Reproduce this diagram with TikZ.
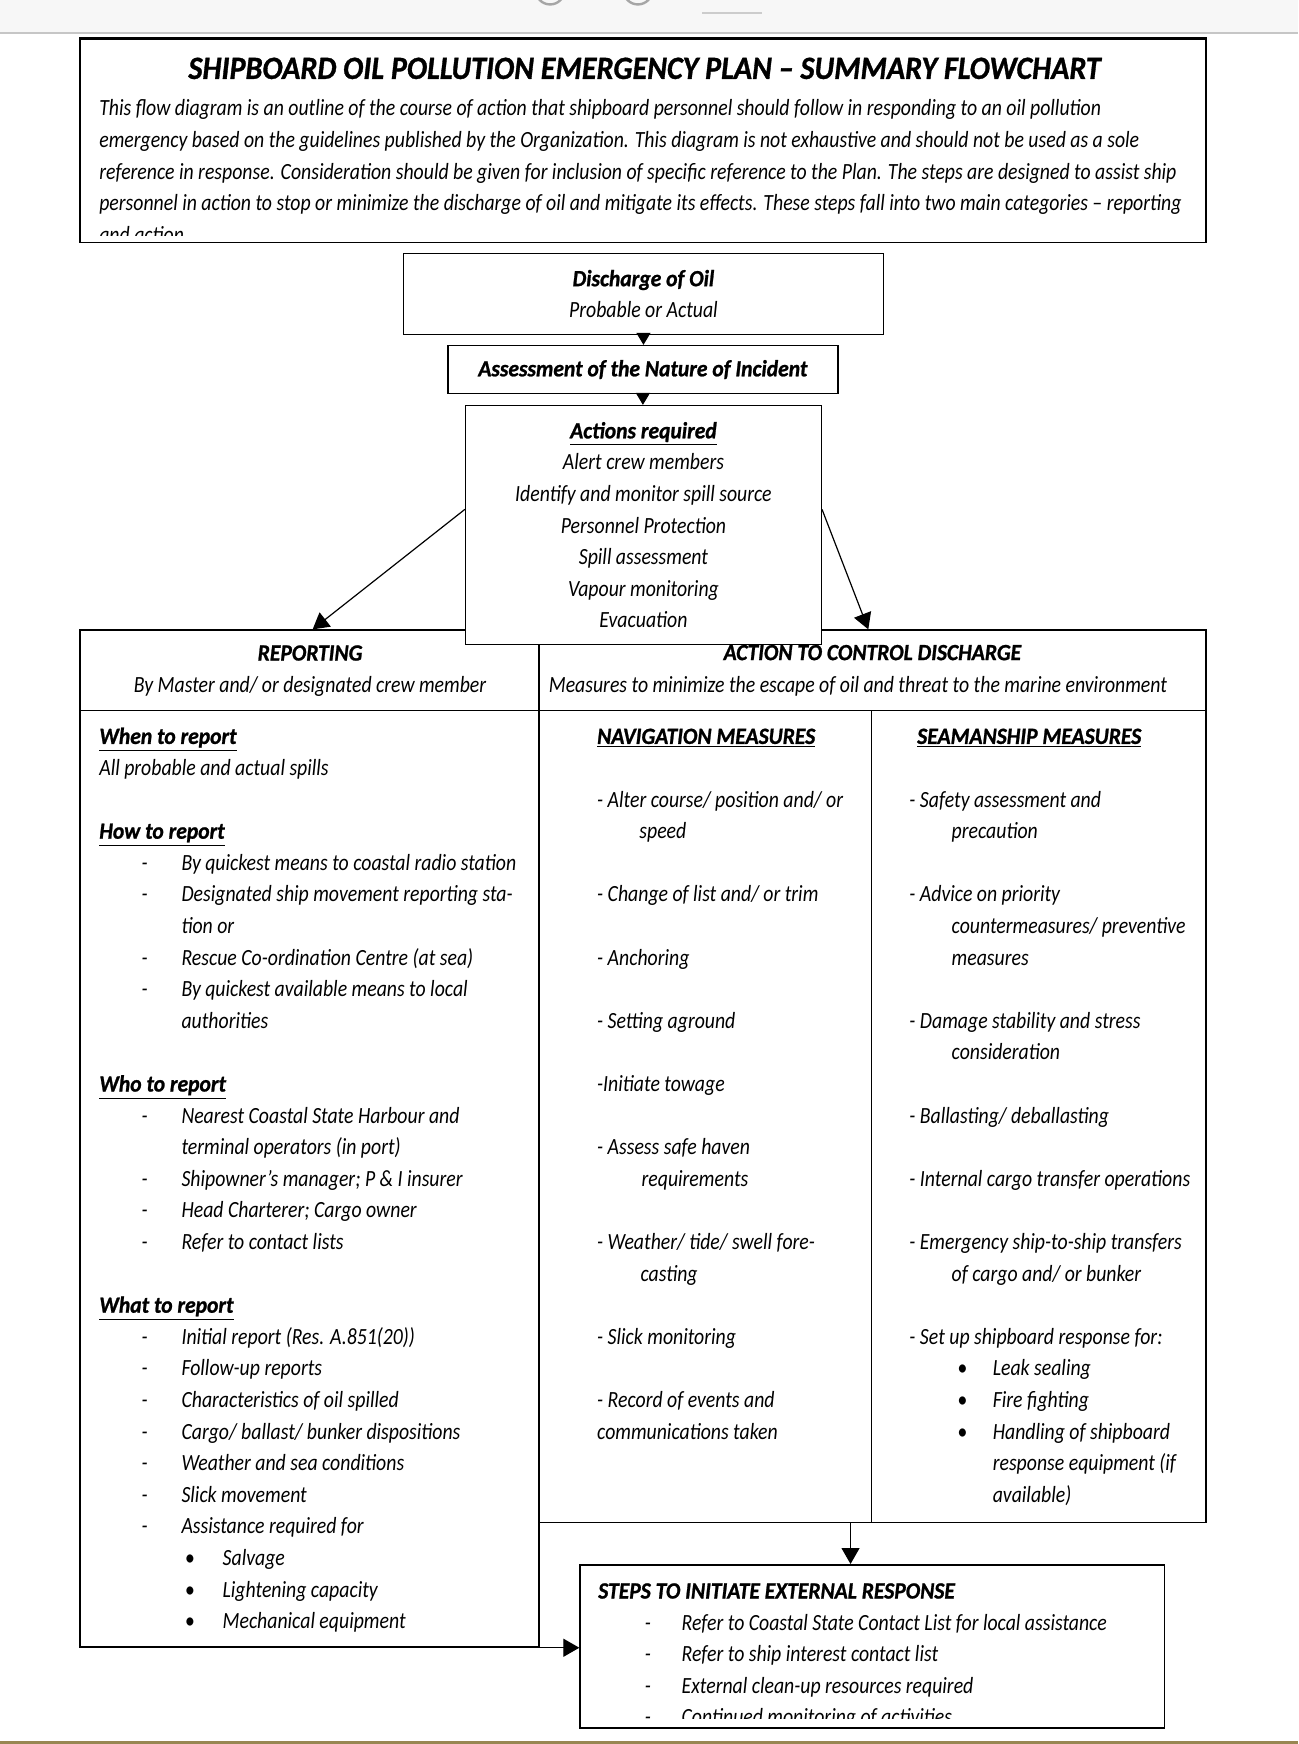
\documentclass[tikz,border=0pt]{standalone}
\usepackage{fontspec}
\setmainfont{Carlito}[FakeStretch=0.852]
\newfontfamily\hdfam{Carlito}[FakeStretch=0.93, BoldItalicFeatures={FakeBold=1}]
\usetikzlibrary{arrows.meta,calc}
\newlength\uu
\setlength\uu{0.55565pt}
\newcommand\bodyfont{\fontsize{11.6pt}{15.8pt}\selectfont\itshape}
\newcommand\hb[1]{{\hdfam\bfseries\itshape #1}}
\newcommand\dsh[1]{\hspace*{38\uu}\makebox[36\uu][l]{-}#1}
\newcommand\cont[1]{\hspace*{74\uu}#1}
\newcommand\bul[1]{\hspace*{77\uu}\makebox[34\uu][l]{\textbullet}#1}
\newcommand\sbul[1]{\hspace*{43\uu}\makebox[32\uu][l]{\textbullet}#1}
\newcommand\hd[1]{\underline{\hb{#1}}}
\newcommand\fl{\rule{0pt}{18\uu}}
\begin{document}
\begin{tikzpicture}[x=0.55565pt,y=-0.55565pt,
  box/.style={draw, line width=0.75pt, inner sep=0pt, fill=white},
  txt/.style={inner sep=0pt, font=\bodyfont, align=left},
  arr/.style={-{Triangle[width=9pt,length=8pt]}, line width=0.6pt},
  sarr/.style={-{Triangle[width=7pt,length=6pt]}, line width=0.6pt},
  rule/.style={line width=0.75pt}]
\useasboundingbox (0,0) rectangle (1168,1569.3);
% viewer bars
\fill[gray!6] (0,0) rectangle (1168,29.4);
\draw[gray!45, line width=1pt] (0,29.6) -- (1168,29.6);
\begin{scope}
\clip (0,0) rectangle (1168,29);
\draw[gray!70, line width=1.2pt] (495,-9) circle (13);
\draw[gray!70, line width=1.2pt] (574,-9) circle (13);
\end{scope}
\draw[gray!40, line width=1pt] (632,11.7) -- (686,11.7);
\fill[black!60!yellow!60!brown] (0,1566.5) rectangle (1168,1569.3);
% header
\node[box, minimum width=1013\uu, minimum height=183\uu] (hdr) at (578.5,126.5) {};
\draw[line width=1.6pt] (hdr.north west) -- (hdr.north east);
\node[inner sep=0pt, anchor=base, font=\fontsize{16.2pt}{19pt}\selectfont\hdfam\bfseries\itshape] (title) at (580,71) {SHIPBOARD OIL POLLUTION EMERGENCY PLAN – SUMMARY FLOWCHART};
\begin{scope}
\clip (72,35) rectangle (1085,212);
\node[txt, anchor=north west] (intro) at (89,86) {\fl This flow diagram is an outline of the course of action that shipboard personnel should follow in responding to an oil pollution\\
emergency based on the guidelines published by the Organization. This diagram is not exhaustive and should not be used as a sole\\
reference in response. Consideration should be given for inclusion of specific reference to the Plan. The steps are designed to assist ship\\
personnel in action to stop or minimize the discharge of oil and mitigate its effects. These steps fall into two main categories – reporting\\
and action};
\end{scope}
% top boxes
\node[box, minimum width=432\uu, minimum height=73\uu, font=\bodyfont, align=center] (disc) at (579,264.5) {\hb{Discharge of Oil}\\Probable or Actual};
\node[box, minimum width=351\uu, minimum height=43\uu, font=\bodyfont] (assess) at (578.5,332.5) {\hb{Assessment of the Nature of Incident}};
\draw[sarr] (disc.south) -- (disc.south |- assess.north);
% lower frames
\node[box, minimum width=413\uu, minimum height=915\uu] (rep) at (278.5,1024.5) {};
\node[box, minimum width=600\uu, minimum height=803\uu] (act) at (785,968.5) {};
\draw[rule] ($(rep.north west)+(0,73)$) -- ($(act.north east)+(0,73)$);
\draw[rule] ($(act.north west)+(300,73)$) -- ($(act.south west)+(300,0)$);
% actions box
\node[box, minimum width=320\uu, minimum height=215\uu, font=\bodyfont, align=center] (actions) at (579,472.5) {\hd{Actions required}\\Alert crew members\\Identify and monitor spill source\\Personnel Protection\\Spill assessment\\Vapour monitoring\\Evacuation};
\draw[sarr] (assess.south) -- (assess.south |- actions.north);
\draw[arr] ($(actions.north west)+(0,94)$) -- ($(rep.north west)+(210,0)$);
\draw[arr] ($(actions.north east)+(0,94)$) -- ($(act.north west)+(297,0)$);
% headers
\node[txt, anchor=north, align=center] (rephd) at (279,576) {\fl\hb{REPORTING}\\By Master and/ or designated crew member};
\node[txt, anchor=base] (acthd) at (785,594) {\hb{ACTION TO CONTROL DISCHARGE}};
\node[txt, anchor=base] (actsub) at (772,623) {Measures to minimize the escape of oil and threat to the marine environment};
% reporting column
\node[txt, anchor=north west] (repcol) at (89,651) {\fl\hd{When to report}\\
All probable and actual spills\\
~\\
\hd{How to report}\\
\dsh{By quickest means to coastal radio station}\\
\dsh{Designated ship movement reporting sta-}\\
\cont{tion or}\\
\dsh{Rescue Co-ordination Centre (at sea)}\\
\dsh{By quickest available means to local}\\
\cont{authorities}\\
~\\
\hd{Who to report}\\
\dsh{Nearest Coastal State Harbour and}\\
\cont{terminal operators (in port)}\\
\dsh{Shipowner’s manager; P \& I insurer}\\
\dsh{Head Charterer; Cargo owner}\\
\dsh{Refer to contact lists}\\
~\\
\hd{What to report}\\
\dsh{Initial report (Res. A.851(20))}\\
\dsh{Follow-up reports}\\
\dsh{Characteristics of oil spilled}\\
\dsh{Cargo/ ballast/ bunker dispositions}\\
\dsh{Weather and sea conditions}\\
\dsh{Slick movement}\\
\dsh{Assistance required for}\\
\bul{Salvage}\\
\bul{Lightening capacity}\\
\bul{Mechanical equipment}};
% navigation column
\node[txt, anchor=north west] (navcol) at (537,651) {\fl\hd{NAVIGATION MEASURES}\\
~\\
- Alter course/ position and/ or\\
\hspace*{38\uu}speed\\
~\\
- Change of list and/ or trim\\
~\\
- Anchoring\\
~\\
- Setting aground\\
~\\
-Initiate towage\\
~\\
- Assess safe haven\\
\hspace*{40\uu}requirements\\
~\\
- Weather/ tide/ swell fore-\\
\hspace*{39\uu}casting\\
~\\
- Slick monitoring\\
~\\
- Record of events and\\
communications taken};
% seamanship column
\node[txt, anchor=north west] (seacol) at (818,651) {\fl\hspace*{7\uu}\hd{SEAMANSHIP MEASURES}\\
~\\
- Safety assessment and\\
\hspace*{38\uu}precaution\\
~\\
- Advice on priority\\
\hspace*{38\uu}countermeasures/ preventive\\
\hspace*{38\uu}measures\\
~\\
- Damage stability and stress\\
\hspace*{38\uu}consideration\\
~\\
- Ballasting/ deballasting\\
~\\
- Internal cargo transfer operations\\
~\\
- Emergency ship-to-ship transfers\\
\hspace*{38\uu}of cargo and/ or bunker\\
~\\
- Set up shipboard response for:\\
\sbul{Leak sealing}\\
\sbul{Fire fighting}\\
\sbul{Handling of shipboard}\\
\hspace*{75\uu}response equipment (if\\
\hspace*{75\uu}available)};
% steps box
\node[box, minimum width=526\uu, minimum height=147\uu] (steps) at (785,1481.5) {};
\draw[arr] ($(act.south west)+(281,0)$) coordinate (sa) -- (sa |- steps.north);
\draw[arr] (rep.south east) -- (rep.south east -| steps.west);
\begin{scope}
\clip (522,1408) rectangle (1048,1546);
\node[txt, anchor=north west] (stepcol) at (538,1420) {\fl\hb{STEPS TO INITIATE EXTERNAL RESPONSE}\\
\hspace*{42\uu}\makebox[33\uu][l]{-}Refer to Coastal State Contact List for local assistance\\
\hspace*{42\uu}\makebox[33\uu][l]{-}Refer to ship interest contact list\\
\hspace*{42\uu}\makebox[33\uu][l]{-}External clean-up resources required\\
\hspace*{42\uu}\makebox[33\uu][l]{-}Continued monitoring of activities};
\end{scope}
\end{tikzpicture}
\end{document}
